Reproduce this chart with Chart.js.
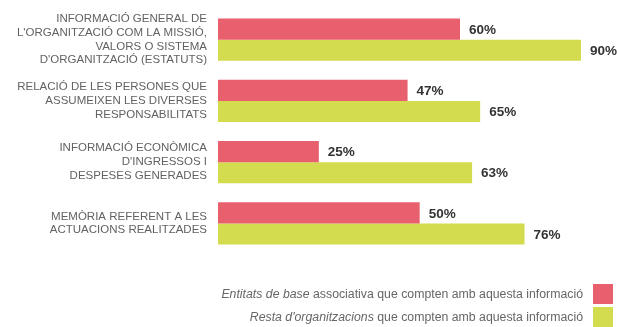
<!DOCTYPE html>
<html>
<head>
<meta charset="utf-8">
<script src="https://cdn.jsdelivr.net/npm/chart.js@4/dist/chart.umd.min.js"></script>
<style>
  html, body { margin: 0; padding: 0; background: #fff; overflow: hidden; }
  #wrap { position: relative; width: 617px; height: 327px; overflow: hidden; }
  #chart { position: absolute; left: 0; top: 0; }
  .legend-row {
    position: absolute; right: 0; height: 20px;
    display: flex; align-items: center; justify-content: flex-end;
    font-family: "Liberation Sans", Arial, sans-serif; font-size: 12.3px; color: #666;
  }
  .legend-row .sw { width: 20px; height: 20px; margin-left: 10px; margin-right: 4px; }
</style>
</head>
<body>
<div id="wrap">
  <canvas id="chart" width="617" height="327"></canvas>
</div>
<script>
// Categories (each split into the lines shown beside the bars)
const categories = [
  ["INFORMACIÓ GENERAL DE", "L'ORGANITZACIÓ COM LA MISSIÓ,", "VALORS O SISTEMA", "D'ORGANITZACIÓ (ESTATUTS)"],
  ["RELACIÓ DE LES PERSONES QUE", "ASSUMEIXEN LES DIVERSES", "RESPONSABILITATS"],
  ["INFORMACIÓ ECONÒMICA", "D'INGRESSOS I", "DESPESES GENERADES"],
  ["MEMÒRIA REFERENT A LES", "ACTUACIONS REALITZADES"]
];

// Percentage of organisations that have each kind of information
const entitatsBase = [60, 47, 25, 50];
const restaOrganitzacions = [90, 65, 63, 76];

// Legend text: italic lead-in followed by plain text
const seriesLead = ["Entitats de base", "Resta d'organitzacions"];
const seriesTail = [" associativa que compten amb aquesta informació", " que compten amb aquesta informació"];
const seriesColors = ["#E8606D", "#D3DB4F"];

// Writes the percentage just past the end of each bar
const valueLabels = {
  id: 'valueLabels',
  afterDatasetsDraw(chart) {
    const ctx = chart.ctx;
    ctx.save();
    ctx.font = 'bold 13.5px "Liberation Sans", Arial, sans-serif';
    ctx.fillStyle = '#333';
    ctx.textAlign = 'left';
    ctx.textBaseline = 'middle';
    chart.data.datasets.forEach((ds, i) => {
      chart.getDatasetMeta(i).data.forEach((bar, j) => {
        ctx.fillText(ds.data[j] + '%', bar.x + 9, bar.y + 1);
      });
    });
    ctx.restore();
  }
};

new Chart(document.getElementById('chart'), {
  type: 'bar',
  data: {
    labels: categories,
    datasets: [
      { label: seriesLead[0] + seriesTail[0], data: entitatsBase, backgroundColor: seriesColors[0] },
      { label: seriesLead[1] + seriesTail[1], data: restaOrganitzacions, backgroundColor: seriesColors[1] }
    ]
  },
  options: {
    indexAxis: 'y',
    responsive: false,
    animation: false,
    layout: { padding: { top: 9, bottom: 73, right: 36, left: 0 } },
    datasets: { bar: { barPercentage: 1, categoryPercentage: 0.69 } },
    plugins: { legend: { display: false }, tooltip: { enabled: false } },
    scales: {
      x: { display: false, min: 0, max: 90 },
      y: {
        afterFit(scale) {
          scale.width = 218;
          scale.paddingTop = 0;
          scale.paddingBottom = 0;
        },
        grid: { display: false, drawTicks: false },
        border: { display: false },
        ticks: {
          padding: 11,
          color: '#626262',
          font: { family: '"Liberation Sans", Arial, sans-serif', size: 11.5, lineHeight: 1.2 }
        }
      }
    }
  },
  plugins: [valueLabels]
});

// Legend rows below the chart
const wrap = document.getElementById('wrap');
const legendTops = [284, 307];
seriesLead.forEach((lead, i) => {
  const row = document.createElement('div');
  row.className = 'legend-row';
  row.style.top = legendTops[i] + 'px';
  const text = document.createElement('span');
  const em = document.createElement('i');
  em.textContent = lead;
  text.appendChild(em);
  text.appendChild(document.createTextNode(seriesTail[i]));
  const sw = document.createElement('span');
  sw.className = 'sw';
  sw.style.background = seriesColors[i];
  row.appendChild(text);
  row.appendChild(sw);
  wrap.appendChild(row);
});
</script>
</body>
</html>
